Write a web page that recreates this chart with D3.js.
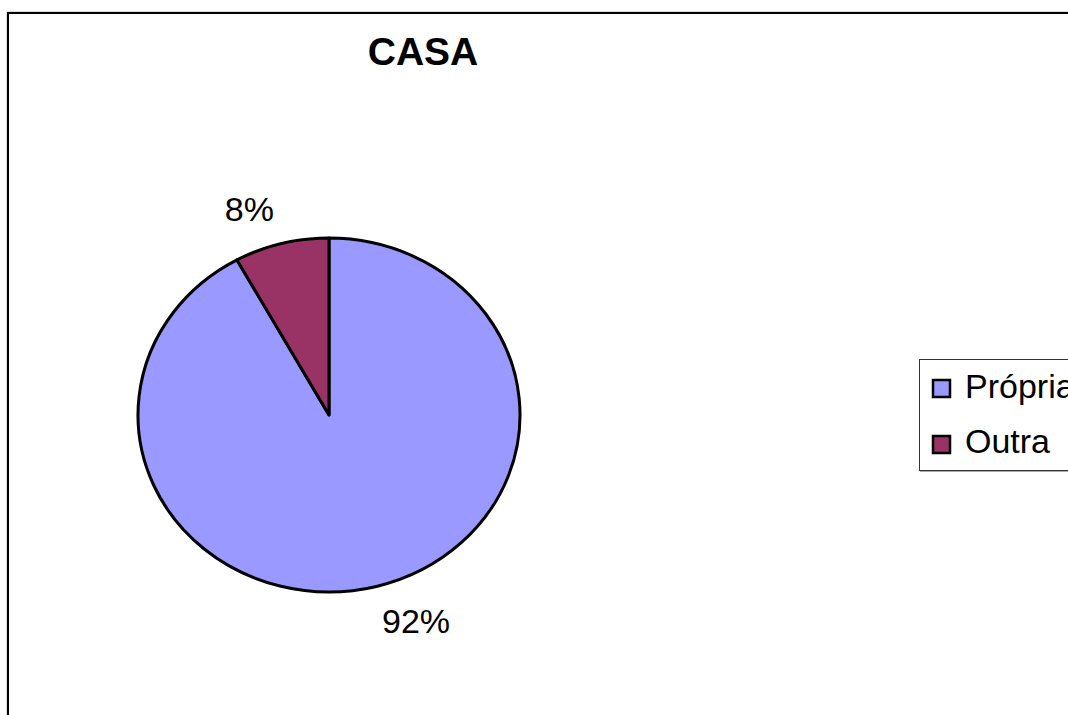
<!DOCTYPE html>
<html>
<head>
<meta charset="utf-8">
<script src="https://d3js.org/d3.v7.min.js"></script>
<style>
  body { margin: 0; background: white; }
  text { font-family: "Liberation Sans", Arial, sans-serif; }
</style>
</head>
<body>
<div id="chart"></div>
<script>
// Data
const categories = ["Própria", "Outra"];
const values = [92, 8];
const labels = ["92%", "8%"];
const colors = ["#9999FF", "#993366"];

let width = 1068,
    height = 715;

let svg = d3.select('#chart')
    .append('svg')
    .attr('width', width)
    .attr('height', height)
    .style('background', 'white');

// outer frame
svg.append('rect')
    .attr('x', 8)
    .attr('y', 13)
    .attr('width', 1200)
    .attr('height', 900)
    .attr('fill', 'none')
    .attr('stroke', '#bbb')
    .attr('stroke-width', 1)
    .attr('transform', 'translate(-1,-1)');
svg.append('rect')
    .attr('x', 8)
    .attr('y', 13)
    .attr('width', 1200)
    .attr('height', 900)
    .attr('fill', 'none')
    .attr('stroke', 'black')
    .attr('stroke-width', 2);

// title
svg.append('text')
    .attr('x', 423)
    .attr('y', 65)
    .attr('text-anchor', 'middle')
    .style('font-size', '39px')
    .style('font-weight', 'bold')
    .text('CASA');

// pie, drawn as an ellipse like the original
const cx = 329, cy = 415, rx = 191, ry = 177;

const color = d3.scaleOrdinal()
    .domain(categories)
    .range(colors);

const table = categories.map((c, i) => ({name: c, value: values[i], label: labels[i]}));

const pie = d3.pie()
    .sort(null)
    .value(d => d.value);

const arcs = pie(table);

const arc = d3.arc()
    .innerRadius(0)
    .outerRadius(rx);

let pieG = svg.append('g')
    .attr('transform', `translate(${cx},${cy}) scale(1,${ry / rx})`);

pieG.selectAll('path')
    .data(arcs)
    .enter()
    .append('path')
    .attr('d', arc)
    .attr('fill', d => color(d.data.name))
    .attr('stroke', 'black')
    .attr('stroke-width', 3)
    .attr('vector-effect', 'non-scaling-stroke')
    .attr('stroke-linejoin', 'round');

// data labels just outside each slice
const labelFactor = 1.2;
arcs.forEach(d => {
    const mid = (d.startAngle + d.endAngle) / 2;
    const lx = cx + Math.sin(mid) * rx * labelFactor;
    const ly = cy - Math.cos(mid) * ry * labelFactor;
    svg.append('text')
        .attr('x', lx + (Math.sin(mid) < 0 ? 2 : -4))
        .attr('y', ly)
        .attr('dy', '0.35em')
        .attr('text-anchor', Math.sin(mid) < 0 ? 'end' : 'start')
        .style('font-size', '34px')
        .text(d.data.label);
});

// legend
const legend = svg.append('g')
    .attr('transform', 'translate(919.5, 359.5)');

legend.append('rect')
    .attr('x', 1)
    .attr('y', 1)
    .attr('width', 300)
    .attr('height', 111)
    .attr('fill', 'none')
    .attr('stroke', '#aaa')
    .attr('stroke-width', 1);
legend.append('rect')
    .attr('x', 0)
    .attr('y', 0)
    .attr('width', 300)
    .attr('height', 111)
    .attr('fill', 'white')
    .attr('stroke', '#333')
    .attr('stroke-width', 1);

categories.forEach((c, i) => {
    legend.append('rect')
        .attr('x', 13.5)
        .attr('y', 20.5 + i * 56)
        .attr('width', 17)
        .attr('height', 17)
        .attr('fill', color(c))
        .attr('stroke', 'black')
        .attr('stroke-width', 2.5);
    legend.append('text')
        .attr('x', 45.5)
        .attr('y', 38 + i * 55.5)
        .style('font-size', '34px')
        .text(c);
});
</script>
</body>
</html>
